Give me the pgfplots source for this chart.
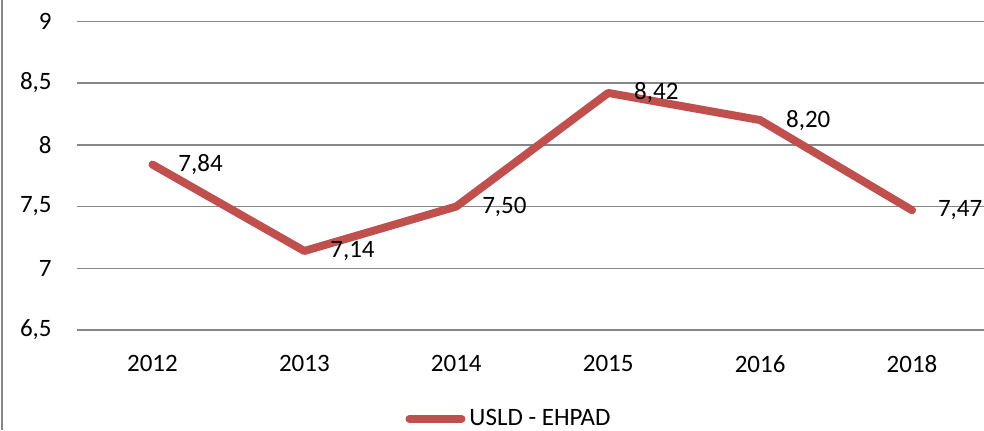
\documentclass[border=0pt]{standalone}
\usepackage{pgfplots}
\pgfplotsset{compat=1.18}
\usepackage{fontspec}
\setmainfont{Carlito}
\definecolor{serie}{HTML}{C0504D}
\definecolor{grille}{HTML}{868686}
\begin{document}
\fontsize{12.5}{15}\selectfont
\begin{tikzpicture}
\useasboundingbox (0,0) rectangle (492pt,-215pt);
\draw[grille, line width=0.9pt] (0.8pt,0) -- (0.8pt,-215pt);
\begin{axis}[
  at={(38.25pt,-165pt)}, anchor=south west,
  scale only axis, width=455.75pt, height=154.35pt,
  xmin=-0.5, xmax=5.5, ymin=6.5, ymax=9,
  xtick={0,1,2,3,4,5},
  xticklabels={2012,2013,2014,2015,2016,2018},
  ytick={6.5,7,7.5,8,8.5,9},
  /pgf/number format/assume math mode=true,
  /pgf/number format/use comma,
  yticklabel style={anchor=east, inner sep=0pt, xshift=-12.25pt},
  xticklabel style={anchor=north, inner sep=0pt, yshift=-12.5pt},
  major tick length=0pt,
  axis line style={draw=none},
  ymajorgrids, grid style={grille, line width=0.75pt},
  clip=false,
  legend style={draw=none, fill=none, at={(0.4756,-0.288)}, anchor=center,
    font=\fontsize{12.5}{15}\selectfont, inner sep=0pt},
  legend image code/.code={\draw[line width=4pt, line cap=round, serie] (2pt,0pt) -- (28pt,0pt);},
  legend cell align=left,
]
\addplot[serie, line width=4pt, line cap=round, line join=round,
  nodes near coords,
  point meta=explicit,
  nodes near coords style={anchor=west, xshift=11pt, inner sep=0pt, text=black,
    /pgf/number format/.cd, fixed, fixed zerofill, precision=2, use comma, assume math mode=true},
] coordinates {
  (0,7.84) [7.84]
  (1,7.14) [7.14]
  (2,7.50) [7.50]
  (3,8.42) [8.42]
  (4,8.20) [8.20]
  (5,7.47) [7.47]
};
\addlegendentry{USLD - EHPAD}
\end{axis}
\end{tikzpicture}
\end{document}
